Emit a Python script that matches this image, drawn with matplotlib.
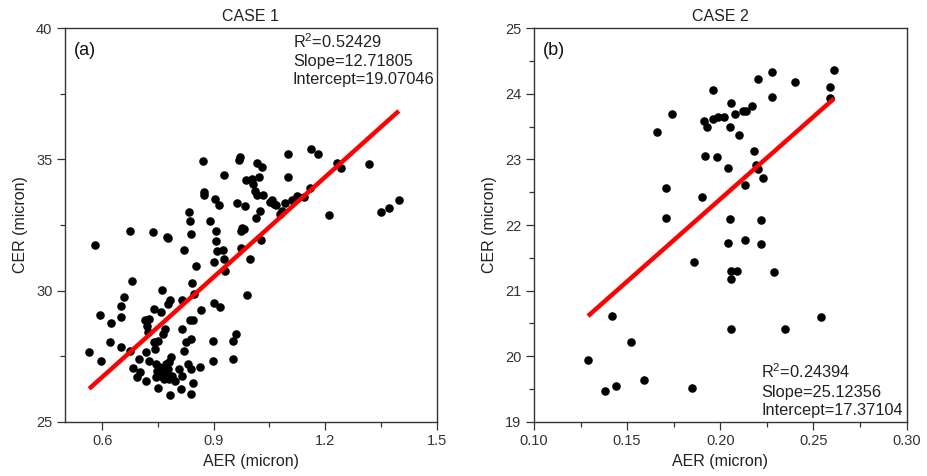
import matplotlib
matplotlib.use("Agg")
import matplotlib.pyplot as plt
from matplotlib.ticker import MultipleLocator

plt.rcParams['font.family'] = ['Liberation Sans', 'DejaVu Sans']
plt.rcParams['mathtext.fontset'] = 'custom'
plt.rcParams['mathtext.rm'] = 'Liberation Sans'

# CASE 1 data
aer1 = [0.565, 0.596, 0.58, 0.594, 0.623, 0.62, 0.652, 0.652, 0.652, 0.66,
        0.681, 0.676, 0.676, 0.684, 0.693, 0.70, 0.703, 0.717, 0.719, 0.715,
        0.72, 0.727, 0.722, 0.727, 0.736, 0.74, 0.74, 0.743, 0.746, 0.748,
        0.749, 0.749, 0.758, 0.762, 0.763, 0.769, 0.772, 0.774, 0.776, 0.776,
        0.78, 0.782, 0.782, 0.784, 0.787, 0.796, 0.807, 0.812, 0.815, 0.815,
        0.816, 0.819, 0.819, 0.826, 0.831, 0.833, 0.836, 0.838, 0.836, 0.838,
        0.84, 0.843, 0.845, 0.845, 0.84, 0.847, 0.852, 0.863, 0.866, 0.872,
        0.874, 0.874, 0.889, 0.899, 0.899, 0.90, 0.902, 0.903, 0.907, 0.907,
        0.909, 0.913, 0.918, 0.924, 0.927, 0.929, 0.931, 0.951, 0.951, 0.959,
        0.964, 0.969, 0.972, 0.973, 0.973, 0.976, 0.982, 0.983, 0.988, 0.989,
        0.998, 1.003, 1.006, 1.012, 1.013, 1.016, 1.017, 1.023, 1.025, 1.027,
        1.029, 1.034, 1.051, 1.056, 1.062, 1.069, 1.078, 1.083, 1.092, 1.099,
        1.101, 1.112, 1.124, 1.127, 1.142, 1.158, 1.163, 1.181, 1.209, 1.231,
        1.243, 1.318, 1.349, 1.372, 1.398,
        0.754, 0.763, 0.772, 0.758, 0.778, 0.745, 0.767, 0.78]
cer1 = [27.65, 27.33, 31.72, 29.08, 28.75, 28.05, 27.84, 28.98, 29.40, 29.75,
        30.36, 32.29, 27.71, 27.05, 26.69, 27.39, 26.91, 26.56, 27.66, 28.88,
        28.66, 28.92, 28.41, 27.33, 32.25, 29.30, 28.03, 27.77, 27.20, 26.95,
        26.27, 28.09, 29.17, 30.03, 28.35, 28.54, 27.20, 32.06, 32.01, 29.49,
        27.26, 29.64, 26.02, 27.46, 26.76, 26.56, 27.01, 26.25, 26.76, 29.64,
        28.54, 27.71, 31.53, 28.03, 27.20, 32.99, 32.67, 32.16, 28.88, 28.16,
        27.01, 30.28, 28.88, 26.48, 26.05, 29.87, 30.92, 27.07, 29.26, 34.94,
        33.75, 33.66, 32.65, 28.09, 27.33, 31.08, 29.53, 33.50, 32.29, 31.88,
        31.50, 33.28, 29.39, 31.55, 34.40, 31.21, 30.74, 28.09, 27.39, 28.35,
        33.35, 34.99, 35.11, 31.63, 32.29, 32.39, 32.35, 33.24, 34.20, 29.83,
        31.21, 34.26, 34.07, 33.79, 32.76, 33.63, 34.86, 34.35, 33.05, 31.93,
        34.71, 33.63, 33.37, 33.46, 33.31, 33.28, 32.93, 33.05, 33.33, 35.22,
        34.35, 33.46, 33.59, 33.56, 33.56, 33.92, 35.38, 35.22, 32.89, 34.86,
        34.68, 34.83, 32.99, 33.14, 33.47,
        27.07, 26.95, 26.82, 26.76, 27.01, 26.69, 26.62, 26.62]

# CASE 2 data
aer2 = [0.129, 0.138, 0.142, 0.144, 0.152, 0.159, 0.166, 0.171, 0.171, 0.174,
        0.185, 0.186, 0.190, 0.191, 0.192, 0.193, 0.196, 0.196, 0.198, 0.199,
        0.202, 0.204, 0.204, 0.205, 0.205, 0.206, 0.206, 0.206, 0.206, 0.208,
        0.209, 0.210, 0.212, 0.213, 0.213, 0.214, 0.217, 0.218, 0.219, 0.220,
        0.220, 0.222, 0.222, 0.223, 0.228, 0.228, 0.229, 0.235, 0.240, 0.254,
        0.259, 0.259, 0.261]
cer2 = [19.94, 19.47, 20.62, 19.55, 20.21, 19.64, 23.42, 22.57, 22.10, 23.69,
        19.51, 21.44, 22.43, 23.58, 23.06, 23.49, 24.06, 23.62, 23.03, 23.65,
        23.65, 22.87, 21.73, 22.09, 23.49, 21.18, 21.30, 20.42, 23.86, 23.69,
        21.30, 23.37, 23.74, 22.61, 21.77, 23.74, 23.82, 23.13, 22.91, 22.86,
        24.23, 22.08, 21.71, 22.72, 24.33, 23.96, 21.29, 20.41, 24.18, 20.60,
        24.11, 23.93, 24.36]

fits = [(0.52429, 12.71805, 19.07046), (0.24394, 25.12356, 17.37104)]
titles = ["CASE 1", "CASE 2"]
tags = ["(a)", "(b)"]

fig = plt.figure(figsize=(9.27, 4.76), dpi=100)
ax1 = fig.add_axes([0.0701, 0.114, 0.401, 0.8265])
ax2 = fig.add_axes([0.576, 0.114, 0.402, 0.8265])

for i, (ax, x, y) in enumerate([(ax1, aer1, cer1), (ax2, aer2, cer2)]):
    r2, slope, icpt = fits[i]
    ax.scatter(x, y, s=38, color='black', zorder=3, linewidths=0)
    xs = [min(x), max(x)]
    ax.plot(xs, [icpt + slope * v for v in xs], color='#ff0000', lw=3.2, zorder=4,
            solid_capstyle='butt')
    ax.set_title(titles[i], fontsize=11.5, pad=5, color='#222222')
    ax.set_xlabel("AER (micron)", fontsize=11.5, labelpad=4, color='#222222')
    ax.set_ylabel("CER (micron)", fontsize=11.5, labelpad=6, color='#222222')
    ax.text(0.025, 0.965, tags[i], transform=ax.transAxes, fontsize=13,
            va='top', ha='left', color='#111111')
    txt = "R$^2$=%.5f\nSlope=%.5f\nIntercept=%.5f" % (r2, slope, icpt)
    if i == 0:
        ax.text(0.613, 0.99, txt, transform=ax.transAxes, fontsize=11.8,
                va='top', ha='left', linespacing=1.27, color='#222222')
    else:
        ax.text(0.61, 0.01, txt, transform=ax.transAxes, fontsize=11.8,
                va='bottom', ha='left', linespacing=1.27, color='#222222')
    ax.tick_params(which='major', direction='out', length=5.5, width=0.9,
                   labelsize=10.5, colors='#333333')
    ax.tick_params(which='minor', direction='out', length=3.5, width=0.9,
                   colors='#333333')
    for sp in ax.spines.values():
        sp.set_linewidth(1.0)
        sp.set_color('#333333')

ax1.set_xlim(0.5, 1.5)
ax1.set_ylim(25, 40)
ax1.set_xticks([0.6, 0.9, 1.2, 1.5])
ax1.xaxis.set_minor_locator(MultipleLocator(0.15))
ax1.yaxis.set_major_locator(MultipleLocator(5))
ax1.yaxis.set_minor_locator(MultipleLocator(2.5))

ax2.set_xlim(0.10, 0.30)
ax2.set_ylim(19, 25)
ax2.set_xticks([0.10, 0.15, 0.20, 0.25, 0.30])
ax2.set_xticklabels(["0.10", "0.15", "0.20", "0.25", "0.30"])
ax2.xaxis.set_minor_locator(MultipleLocator(0.025))
ax2.yaxis.set_major_locator(MultipleLocator(1))
ax2.yaxis.set_minor_locator(MultipleLocator(0.5))

fig.savefig("out.png", dpi=100)
